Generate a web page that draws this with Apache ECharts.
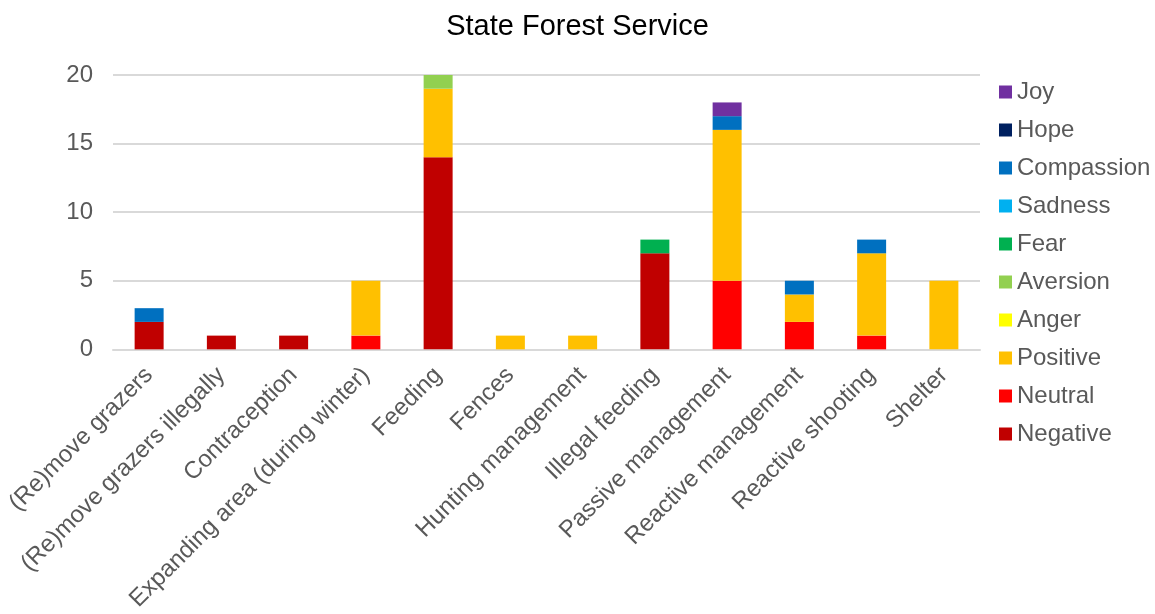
<!DOCTYPE html>
<html>
<head>
<meta charset="utf-8">
<script src="https://cdn.jsdelivr.net/npm/echarts@6/dist/echarts.min.js"></script>
<style>
html,body{margin:0;padding:0;background:#fff;}
#main{width:1155px;height:614px;}
</style>
</head>
<body>
<div id="main"></div>
<script>
const categories = ['(Re)move grazers','(Re)move grazers illegally','Contraception','Expanding area (during winter)','Feeding','Fences','Hunting management','Illegal feeding','Passive management','Reactive management','Reactive shooting','Shelter'];
const negative   = [2,1,1,0,14,0,0,7,0,0,0,0];
const neutral    = [0,0,0,1,0,0,0,0,5,2,1,0];
const positive   = [0,0,0,4,5,1,1,0,11,2,6,5];
const anger      = [0,0,0,0,0,0,0,0,0,0,0,0];
const aversion   = [0,0,0,0,1,0,0,0,0,0,0,0];
const fear       = [0,0,0,0,0,0,0,1,0,0,0,0];
const sadness    = [0,0,0,0,0,0,0,0,0,0,0,0];
const compassion = [1,0,0,0,0,0,0,0,1,1,1,0];
const hope       = [0,0,0,0,0,0,0,0,0,0,0,0];
const joy        = [0,0,0,0,0,0,0,0,1,0,0,0];
const yTicks = [0,5,10,15,20];

const seriesDefs = [
  ['Negative', negative, '#C00000'],
  ['Neutral', neutral, '#FF0000'],
  ['Positive', positive, '#FFC000'],
  ['Anger', anger, '#FFFF00'],
  ['Aversion', aversion, '#92D050'],
  ['Fear', fear, '#00B050'],
  ['Sadness', sadness, '#00B0F0'],
  ['Compassion', compassion, '#0070C0'],
  ['Hope', hope, '#002060'],
  ['Joy', joy, '#7030A0']
];

const chart = echarts.init(document.getElementById('main'), null, {renderer:'canvas'});
const font = 'Liberation Sans, Arial, sans-serif';
chart.setOption({
  animation: false,
  backgroundColor: '#fff',
  title: {
    text: 'State Forest Service',
    left: 'center', top: 7,
    textStyle: {fontFamily: font, fontSize: 29, fontWeight: 'normal', color: '#000'}
  },
  legend: {
    orient: 'vertical',
    left: 994, top: 75,
    itemWidth: 13, itemHeight: 13,
    itemGap: 14,
    icon: 'rect',
    data: seriesDefs.map(d => d[0]).reverse(),
    textStyle: {fontFamily: font, fontSize: 24, color: '#595959'}
  },
  grid: {left: 113, right: 175, top: 75, bottom: 262, containLabel: false},
  xAxis: {
    type: 'category',
    data: categories,
    axisTick: {show: false},
    axisLine: {show: true, lineStyle: {color: '#D9D9D9', width: 2}},
    axisLabel: {rotate: 45, interval: 0, fontFamily: font, fontSize: 24, color: '#595959', margin: 22}
  },
  yAxis: {
    type: 'value',
    min: yTicks[0], max: yTicks[yTicks.length-1], interval: 5,
    axisLine: {show: false},
    axisTick: {show: false},
    splitLine: {lineStyle: {color: '#D9D9D9', width: 2}},
    axisLabel: {fontFamily: font, fontSize: 24, color: '#595959', margin: 20}
  },
  series: seriesDefs.map(d => ({
    name: d[0],
    type: 'bar',
    stack: 'total',
    data: d[1].map(v => v === 0 ? null : v),
    barWidth: 29,
    itemStyle: {color: d[2]}
  }))
});
</script>
</body>
</html>
